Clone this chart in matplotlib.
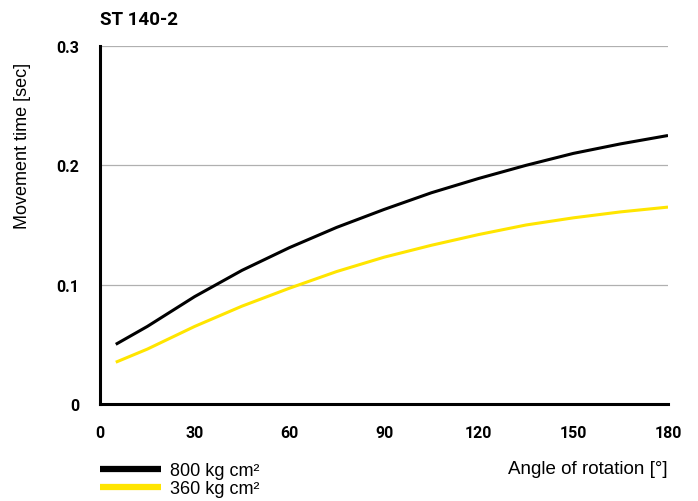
import matplotlib
matplotlib.use("Agg")
from matplotlib import pyplot as plt
from matplotlib.lines import Line2D

# angle of rotation [deg]
angle = [5, 15, 30, 45, 60, 75, 90, 105, 120, 135, 150, 165, 180]
# movement time [sec]
time_800 = [0.050, 0.065, 0.090, 0.112, 0.131, 0.148, 0.163, 0.177, 0.189, 0.200, 0.210, 0.218, 0.225]
time_360 = [0.035, 0.046, 0.065, 0.082, 0.097, 0.111, 0.123, 0.133, 0.142, 0.150, 0.156, 0.161, 0.165]

series_labels = ["800 kg cm²", "360 kg cm²"]
x_ticks = [0, 30, 60, 90, 120, 150, 180]
y_ticks = [0, 0.1, 0.2, 0.3]
y_tick_labels = ["0", "0.1", "0.2", "0.3"]

black = "#000000"
yellow = "#ffe500"
narrow = ["Roboto", "DejaVu Sans"]
regular = ["Liberation Sans", "DejaVu Sans"]

fig = plt.figure(figsize=(6.98, 5.02), dpi=100)
ax = fig.add_axes([100 / 698, 1 - 405 / 502, 568 / 698, 358 / 502])

ax.plot(angle, time_800, color=black, lw=2.2, solid_capstyle="butt", zorder=3)
ax.plot(angle, time_360, color=yellow, lw=2.2, solid_capstyle="butt", zorder=3)

ax.set_xlim(0, 180)
ax.set_ylim(0, 0.3)
ax.set_xticks(x_ticks)
ax.set_yticks(y_ticks)
ax.set_yticklabels(y_tick_labels)
ax.tick_params(length=0, labelsize=11.5)
ax.tick_params(axis="x", pad=15)
ax.tick_params(axis="y", pad=15)
for lbl in ax.get_xticklabels() + ax.get_yticklabels():
    lbl.set_fontfamily(narrow)
    lbl.set_fontweight("bold")

for y in y_ticks[1:]:
    ax.axhline(y, color="#b0b0b0", lw=0.9, zorder=1)

for s in ["top", "right"]:
    ax.spines[s].set_visible(False)
for s in ["left", "bottom"]:
    ax.spines[s].set_linewidth(2.2)
    ax.spines[s].set_color(black)

fig.text(100 / 698, 1 - 20 / 502, "ST 140-2", fontsize=13.5, fontweight="bold",
         family=narrow, va="center", ha="left")
fig.text(23 / 698, 1 - 146 / 502, "Movement time [sec]", rotation=90, fontsize=13,
         family=regular, va="center", ha="center")
fig.text(668 / 698, 1 - 470 / 502, "Angle of rotation [°]", fontsize=13.5,
         family=regular, va="center", ha="right")

handles = [Line2D([], [], color=black, lw=4.5, solid_capstyle="butt"),
           Line2D([], [], color=yellow, lw=4.5, solid_capstyle="butt")]
leg = fig.legend(handles, series_labels, loc="upper left",
                 bbox_to_anchor=(100 / 698, 1 - 463 / 502), frameon=False,
                 handlelength=3.4, handletextpad=0.5, labelspacing=0.05,
                 prop={"family": regular, "size": 13}, borderaxespad=0, borderpad=0)

fig.savefig("out.png", dpi=100)
